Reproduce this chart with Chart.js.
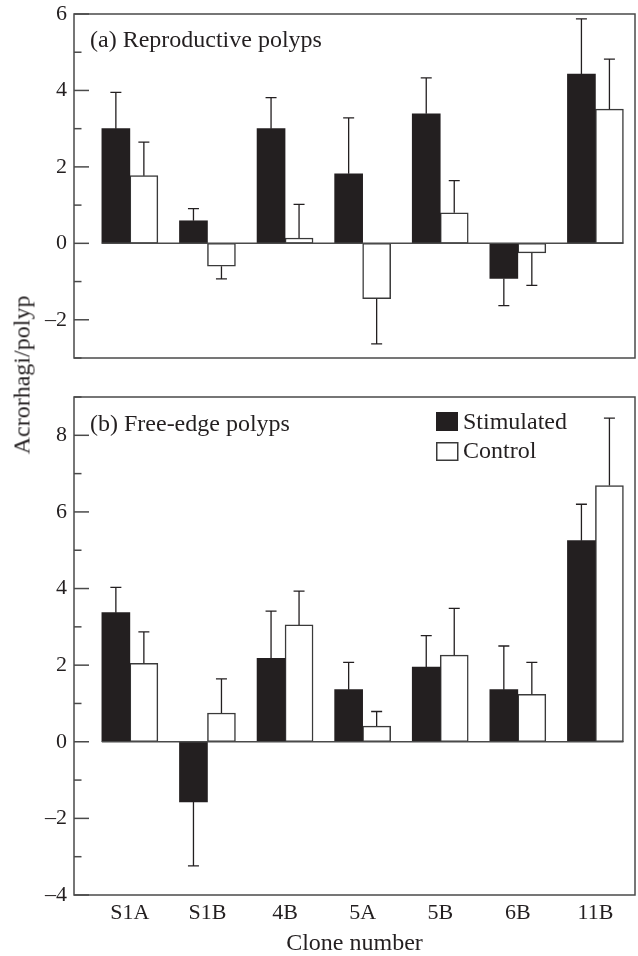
<!DOCTYPE html>
<html>
<head>
<meta charset="utf-8">
<script src="https://cdn.jsdelivr.net/npm/chart.js@4.4.1/dist/chart.umd.min.js"></script>
<style>
  html, body { margin: 0; padding: 0; background: #fff; }
  #wrap { position: relative; width: 638px; height: 956px; }
  #wrap canvas { position: absolute; left: 0; top: 0; }
  #ytitle {
    position: absolute; left: 22px; top: 375px;
    transform: translate(-50%, -50%) rotate(-90deg);
    font-family: 'Liberation Serif', serif; font-size: 24px; color: #231f20;
    white-space: nowrap;
  }
</style>
</head>
<body>
<div id="wrap">
  <canvas id="chartA" width="638" height="956"></canvas>
  <canvas id="chartB" width="638" height="956"></canvas>
  <div id="ytitle">Acrorhagi/polyp</div>
</div>
<script>
// ---- data ----
const clones = ['S1A', 'S1B', '4B', '5A', '5B', '6B', '11B'];
const seriesNames = ['Stimulated', 'Control'];

// (a) Reproductive polyps
const reproStim    = [3.0, 0.59, 3.0, 1.82, 3.39, -0.92, 4.43];
const reproStimErr = [0.95, 0.32, 0.81, 1.46, 0.94, 0.71, 1.44];
const reproCtrl    = [1.77, -0.6, 0.14, -1.45, 0.8, -0.25, 3.51];
const reproCtrlErr = [0.88, 0.33, 0.88, 1.18, 0.84, 0.85, 1.31];

// (b) Free-edge polyps
const freeStim    = [3.37, -1.57, 2.18, 1.36, 1.95, 1.36, 5.25];
const freeStimErr = [0.66, 1.67, 1.23, 0.71, 0.82, 1.14, 0.95];
const freeCtrl    = [2.05, 0.75, 3.05, 0.41, 2.26, 1.24, 6.69];
const freeCtrlErr = [0.82, 0.89, 0.88, 0.38, 1.22, 0.83, 1.76];

const reproRange = [-3, 6];
const freeRange = [-4, 9];

const INK = '#231f20';
const LINE = '#4a4a4a';
const SERIF = "'Liberation Serif', 'Times New Roman', serif";

function fmt(v) {
  return v < 0 ? '\u2013' + Math.abs(v) : String(v);
}

// frame, inner ticks, zero line, error bars, panel label, legend
const deco = {
  id: 'deco',
  afterDatasetsDraw(chart, args, opts) {
    const ctx = chart.ctx;
    const area = chart.chartArea;
    const ys = chart.scales.y;
    ctx.save();

    // zero line from first bar to last bar
    const m0 = chart.getDatasetMeta(0);
    const m1 = chart.getDatasetMeta(1);
    const first = m0.data[0];
    const last = m1.data[m1.data.length - 1];
    const y0 = ys.getPixelForValue(0);
    ctx.strokeStyle = LINE;
    ctx.lineWidth = 1.5;
    ctx.beginPath();
    ctx.moveTo(first.x - first.width / 2, y0);
    ctx.lineTo(last.x + last.width / 2, y0);
    ctx.stroke();

    // error bars (one-sided, away from zero)
    ctx.strokeStyle = INK;
    ctx.lineWidth = 1.3;
    chart.data.datasets.forEach((ds, i) => {
      const meta = chart.getDatasetMeta(i);
      meta.data.forEach((bar, j) => {
        const v = ds.data[j].y;
        const end = v >= 0 ? v + ds.errors[j] : v - ds.errors[j];
        const ye = ys.getPixelForValue(end);
        const yb = ys.getPixelForValue(v);
        ctx.beginPath();
        ctx.moveTo(bar.x, yb);
        ctx.lineTo(bar.x, ye);
        ctx.moveTo(bar.x - 5.5, ye);
        ctx.lineTo(bar.x + 5.5, ye);
        ctx.stroke();
      });
    });

    // inner tick marks on the y axis
    ctx.strokeStyle = LINE;
    ctx.lineWidth = 1.5;
    ys.ticks.forEach(t => {
      const py = ys.getPixelForValue(t.value);
      const len = t.value % 2 === 0 ? 15 : 7.5;
      ctx.beginPath();
      ctx.moveTo(area.left, py);
      ctx.lineTo(area.left + len, py);
      ctx.stroke();
    });

    // frame
    ctx.strokeRect(area.left, area.top, area.right - area.left, area.bottom - area.top);

    // panel label
    ctx.fillStyle = INK;
    ctx.font = '24px ' + SERIF;
    ctx.textBaseline = 'alphabetic';
    ctx.textAlign = 'left';
    ctx.fillText(opts.label, area.left + 16, area.top + opts.labelDy);

    // legend
    if (opts.legend) {
      const bx = area.right - 199;
      const by = area.top + 15;
      ctx.fillStyle = INK;
      ctx.fillRect(bx, by, 22, 19);
      ctx.fillStyle = '#fff';
      ctx.strokeStyle = '#3a3a3a';
      ctx.lineWidth = 1.5;
      ctx.fillRect(bx + 0.75, by + 30.75, 21, 17.5);
      ctx.strokeRect(bx + 0.75, by + 30.75, 21, 17.5);
      ctx.fillStyle = INK;
      chart.data.datasets.forEach((ds, i) => {
        ctx.fillText(ds.label, bx + 27, by + 17 + i * 29);
      });
    }
    ctx.restore();
  }
};

function makeChart(id, stim, stimErr, ctrl, ctrlErr, range, label, labelDy, showX, legend) {
  const pts = arr => arr.map((v, i) => ({ x: i, y: v }));
  const padTop = showX ? 397 : 14;
  const padBottom = showX ? 0 : 956 - 358;
  return new Chart(document.getElementById(id), {
    type: 'bar',
    data: {
      datasets: [
        {
          label: seriesNames[0], data: pts(stim), errors: stimErr,
          backgroundColor: INK, borderWidth: 0
        },
        {
          label: seriesNames[1], data: pts(ctrl), errors: ctrlErr,
          backgroundColor: '#fff', borderColor: '#3a3a3a', borderWidth: 1.5,
          borderSkipped: false
        }
      ]
    },
    options: {
      responsive: false,
      animation: false,
      events: [],
      barThickness: 28,
      layout: { padding: { top: padTop, right: 3, bottom: padBottom, left: 0 } },
      plugins: {
        legend: { display: false },
        tooltip: { enabled: false },
        deco: { label: label, labelDy: labelDy, legend: legend }
      },
      scales: {
        x: {
          type: 'linear',
          display: showX,
          offset: false,
          min: -0.72,
          max: 6.51,
          afterBuildTicks: s => { s.ticks = clones.map((c, i) => ({ value: i })); },
          afterFit: s => { s.height = showX ? 61 : 0; },
          grid: { display: false, drawTicks: false },
          border: { display: false },
          ticks: {
            autoSkip: false, maxRotation: 0, padding: 5,
            color: INK, font: { family: SERIF, size: 22 },
            callback: v => clones[v] ?? ''
          },
          title: {
            display: true, text: 'Clone number', color: INK,
            font: { family: SERIF, size: 24, lineHeight: 1 },
            padding: { top: 0, bottom: 0 }
          }
        },
        y: {
          min: range[0],
          max: range[1],
          afterFit: s => { s.width = 74; s.paddingTop = 0; s.paddingBottom = 0; },
          grid: { display: false, drawTicks: false },
          border: { display: false },
          ticks: {
            stepSize: 1, autoSkip: false, padding: 7,
            color: INK, font: { family: SERIF, size: 22 },
            callback: v => (v % 2 === 0 ? fmt(v) : '')
          }
        }
      }
    },
    plugins: [deco]
  });
}

makeChart('chartA', reproStim, reproStimErr, reproCtrl, reproCtrlErr, reproRange,
  '(a) Reproductive polyps', 32.5, false, false);
makeChart('chartB', freeStim, freeStimErr, freeCtrl, freeCtrlErr, freeRange,
  '(b) Free-edge polyps', 33.5, true, true);
</script>
</body>
</html>
